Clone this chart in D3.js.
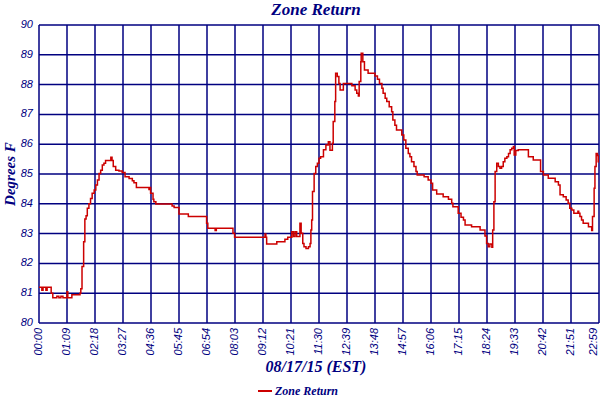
<!DOCTYPE html>
<html>
<head>
<meta charset="utf-8">
<script src="https://cdn.jsdelivr.net/npm/d3@7"></script>
<style>
  body { margin: 0; background: #fff; }
  svg { display: block; }
</style>
</head>
<body>
<div id="chart"></div>
<script>
// minutes since midnight and zone return temperature (deg F)
const times = [0, 7, 10, 17, 20, 30, 34, 44, 49, 54, 59, 69, 71, 81, 101, 103, 106, 110, 113, 116,
  119, 123, 127, 131, 136, 140, 144, 148, 152, 156, 160, 164, 177, 180, 183, 189, 197, 205, 212, 222,
  230, 234, 240, 271, 274, 275, 281, 283, 288, 328, 333, 345, 368, 413, 416, 434, 437, 478, 482, 557,
  559, 561, 586, 606, 613, 623, 627, 631, 635, 643, 646, 650, 653, 658, 664, 668, 670, 672, 674, 678,
  682, 686, 690, 694, 701, 707, 713, 717, 723, 725, 729, 731, 735, 739, 742, 750, 771, 779, 783, 787,
  789, 793, 794, 798, 802, 811, 828, 834, 839, 845, 848, 853, 857, 863, 869, 872, 877, 881, 894, 899,
  904, 910, 914, 918, 924, 929, 932, 949, 959, 966, 970, 980, 996, 1009, 1017, 1020, 1033, 1040, 1046, 1050,
  1066, 1087, 1099, 1103, 1107, 1111, 1116, 1118, 1121, 1124, 1128, 1132, 1136, 1140, 1144, 1148, 1153, 1157, 1161, 1165,
  1169, 1171, 1175, 1181, 1206, 1218, 1236, 1243, 1255, 1272, 1280, 1284, 1292, 1299, 1304, 1308, 1313, 1318, 1328, 1330,
  1333, 1337, 1341, 1354, 1362, 1364, 1368, 1370, 1373, 1376, 1378, 1380];
const temps = [81.2, 81.1, 81.2, 81.1, 81.2, 81.0, 80.85, 80.9, 80.85, 80.9, 80.85, 81.05, 80.85, 80.95, 81.0, 81.15, 81.9, 82.73, 83.49, 83.6,
  83.85, 84.0, 84.18, 84.35, 84.46, 84.63, 84.8, 85.02, 85.13, 85.3, 85.36, 85.45, 85.56, 85.45, 85.25, 85.13, 85.1, 85.05, 84.91, 84.85,
  84.77, 84.71, 84.55, 84.48, 84.55, 84.35, 84.15, 84.07, 83.99, 83.93, 83.88, 83.66, 83.57, 83.35, 83.18, 83.1, 83.18, 83.01, 82.88, 82.99,
  82.88, 82.65, 82.73, 82.81, 82.88, 83.06, 82.9, 83.06, 82.9, 83.35, 83.01, 82.67, 82.56, 82.5, 82.56, 82.67, 83.12, 83.46, 84.41, 85.02,
  85.25, 85.36, 85.53, 85.58, 85.81, 85.97, 86.08, 85.8, 86.03, 86.76, 87.43, 88.38, 88.27, 88.04, 87.82, 88.04, 87.96, 87.82, 87.71, 87.62,
  88.1, 88.77, 89.05, 88.77, 88.49, 88.38, 88.29, 88.18, 88.04, 87.88, 87.71, 87.54, 87.43, 87.26, 87.09, 86.81, 86.64, 86.48, 86.31, 86.14,
  85.86, 85.69, 85.58, 85.41, 85.25, 85.08, 84.97, 84.91, 84.8, 84.69, 84.46, 84.33, 84.24, 84.15, 84.02, 83.9, 83.68, 83.55, 83.46, 83.29,
  83.23, 83.12, 82.92, 82.67, 82.56, 82.65, 82.54, 83.12, 84.07, 85.08, 85.36, 85.25, 85.19, 85.25, 85.41, 85.53, 85.58, 85.69, 85.81, 85.86,
  85.92, 85.64, 85.79, 85.81, 85.58, 85.47, 85.08, 84.97, 84.86, 84.74, 84.63, 84.3, 84.24, 84.13, 84.02, 83.85, 83.79, 83.68, 83.75, 83.68,
  83.57, 83.46, 83.35, 83.23, 83.1, 83.57, 84.52, 85.25, 85.69, 85.62, 85.41, 85.41];
const tickLabels = ["00:00", "01:09", "02:18", "03:27", "04:36", "05:45", "06:54", "08:03", "09:12", "10:21",
  "11:30", "12:39", "13:48", "14:57", "16:06", "17:15", "18:24", "19:33", "20:42", "21:51", "22:59"];
const yTicks = [80, 81, 82, 83, 84, 85, 86, 87, 88, 89, 90];

const navy = "#000080";
const margin = { top: 25, right: 1, bottom: 77, left: 39 },
  width = 600 - margin.left - margin.right,
  height = 400 - margin.top - margin.bottom;

const svg = d3.select("#chart")
  .append("svg")
  .attr("width", 600)
  .attr("height", 400);

const g = svg.append("g")
  .attr("transform", `translate(${margin.left},${margin.top})`);

const x = d3.scaleLinear().domain([0, 1380]).range([0, width]);
const y = d3.scaleLinear().domain([80, 90]).range([height, 0]);
const tickVals = tickLabels.map((d, i) => i * 69);

// grid
g.append("g")
  .selectAll("line")
  .data(yTicks)
  .join("line")
  .attr("x1", 0).attr("x2", width)
  .attr("y1", d => y(d)).attr("y2", d => y(d))
  .attr("stroke", navy).attr("stroke-width", 1.5);

g.append("g")
  .selectAll("line")
  .data(tickVals)
  .join("line")
  .attr("x1", d => x(d)).attr("x2", d => x(d))
  .attr("y1", 0).attr("y2", height)
  .attr("stroke", navy).attr("stroke-width", 1.5);

// y labels
g.append("g")
  .selectAll("text")
  .data(yTicks)
  .join("text")
  .attr("x", -6)
  .attr("y", d => y(d))
  .attr("text-anchor", "end")
  .attr("dominant-baseline", "middle")
  .style("font-family", "Liberation Sans, Arial, sans-serif")
  .style("font-style", "italic")
  .style("font-size", "11px")
  .style("fill", navy)
  .text(d => d);

// x labels, rotated (last one pulled in so it stays on the page)
g.append("g")
  .selectAll("text")
  .data(tickVals)
  .join("text")
  .attr("transform", (d, i) => `translate(${Math.min(x(d), width - 5)},${height + 5}) rotate(-90)`)
  .attr("text-anchor", "end")
  .attr("dominant-baseline", "middle")
  .style("font-family", "Liberation Sans, Arial, sans-serif")
  .style("font-style", "italic")
  .style("font-size", "11px")
  .style("fill", navy)
  .text((d, i) => tickLabels[i]);

// the series
const data = times.map((t, i) => ({ t: t, v: temps[i] }));
g.append("path")
  .datum(data)
  .attr("fill", "none")
  .attr("stroke", "#cc0000")
  .attr("stroke-width", 1.5)
  .attr("d", d3.line()
    .x(d => x(d.t))
    .y(d => y(d.v))
    .curve(d3.curveStepAfter));

// titles
const serif = "Liberation Serif, Times New Roman, serif";
svg.append("text")
  .attr("x", 316).attr("y", 15)
  .attr("text-anchor", "middle")
  .style("font-family", serif)
  .style("font-style", "italic").style("font-weight", "bold")
  .style("font-size", "17px")
  .style("fill", navy)
  .text("Zone Return");

svg.append("text")
  .attr("x", 316).attr("y", 372)
  .attr("text-anchor", "middle")
  .style("font-family", serif)
  .style("font-style", "italic").style("font-weight", "bold")
  .style("font-size", "16px")
  .style("fill", navy)
  .text("08/17/15 (EST)");

svg.append("text")
  .attr("transform", "translate(15,174) rotate(-90)")
  .attr("text-anchor", "middle")
  .style("font-family", serif)
  .style("font-style", "italic").style("font-weight", "bold")
  .style("font-size", "15px")
  .style("fill", navy)
  .text("Degrees F");

// legend
svg.append("line")
  .attr("x1", 258).attr("x2", 272)
  .attr("y1", 391).attr("y2", 391)
  .attr("stroke", "#cc0000").attr("stroke-width", 2);
svg.append("text")
  .attr("x", 275).attr("y", 395)
  .style("font-family", serif)
  .style("font-style", "italic").style("font-weight", "bold")
  .style("font-size", "12px")
  .style("fill", navy)
  .text("Zone Return");
</script>
</body>
</html>
